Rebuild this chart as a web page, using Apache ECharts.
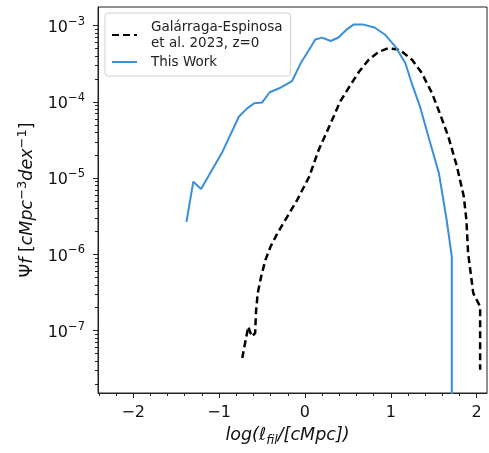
<!DOCTYPE html>
<html><head><meta charset="utf-8">
<script src="https://cdn.jsdelivr.net/npm/echarts@6/dist/echarts.min.js"></script>
<style>html,body{margin:0;padding:0;background:#fff}#c{width:489px;height:453px}</style>
</head><body><div id="c"></div>
<script>
// Galárraga-Espinosa et al. 2023, z=0 (log length, Psi_f)
const galLogL = [-0.73,-0.69,-0.66,-0.62,-0.58,-0.57,-0.55,-0.51,-0.46,-0.40,-0.32,-0.24,-0.17,-0.09,0.05,0.16,0.30,0.41,0.53,0.63,0.74,0.86,0.97,1.07,1.13,1.25,1.36,1.48,1.57,1.67,1.77,1.85,1.88,1.90,1.96,2.04,2.04];
const galPsi = [4.38e-8,7.6e-8,1.13e-7,8.4e-8,9.3e-8,1.77e-7,3.11e-7,5.13e-7,8.5e-7,1.27e-6,1.90e-6,2.70e-6,3.65e-6,5.2e-6,1.05e-5,2.35e-5,5.26e-5,1.01e-4,1.67e-4,2.49e-4,3.55e-4,4.56e-4,5.06e-4,4.91e-4,4.57e-4,3.55e-4,2.40e-4,1.30e-4,7.1e-5,3.51e-5,1.42e-5,5.74e-6,2.84e-6,1.04e-6,3.11e-7,2.07e-7,3.08e-8];
// This Work
const workLogL = [-1.38,-1.30,-1.21,-0.96,-0.77,-0.67,-0.59,-0.50,-0.41,-0.30,-0.15,-0.05,0.07,0.12,0.20,0.30,0.39,0.48,0.57,0.67,0.81,0.93,1.06,1.17,1.25,1.34,1.46,1.56,1.65,1.71,1.71];
const workPsi = [2.67e-6,9.0e-6,7.2e-6,2.23e-5,6.4e-5,8.3e-5,9.6e-5,9.8e-5,1.34e-4,1.51e-4,1.88e-4,3.21e-4,5.3e-4,6.6e-4,6.97e-4,6.3e-4,7.0e-4,8.8e-4,1.04e-3,1.04e-3,9.46e-4,7.67e-4,5.18e-4,3.21e-4,1.67e-4,8.67e-5,2.88e-5,1.16e-5,2.84e-6,9.4e-7,1e-12];
const xTickValues = [-2,-1,0,1,2];
const yTickExponents = [-7,-6,-5,-4,-3];
const seriesNames = ['Galárraga-Espinosa\net al. 2023, z=0','This Work'];

const XMIN=-2.41, XMAX=2.12, YMIN=-7.817, YMAX=-2.755;
const FONT='DejaVu Sans';
const toPts=(xs,ys)=>xs.map((x,i)=>[x,Math.log10(ys[i])]);
const xMinor=[]; for(let v=-2.4; v<=2.1; v+=0.2){const r=Math.round(v*10)/10; if(Math.abs(r-Math.round(r))>1e-6) xMinor.push(r);}
const yMinor=[]; for(let n=-8;n<=-3;n++){for(let k=2;k<=9;k++){const v=n+Math.log10(k); if(v>YMIN&&v<YMAX) yMinor.push(v);}}
const axCol='#222';
const chart=echarts.init(document.getElementById('c'),null,{renderer:'canvas'});
const txt={fontFamily:FONT,color:'#111'};
chart.setOption({
  animation:false,
  backgroundColor:'#fff',
  grid:{left:98,top:7,right:2,bottom:60,show:true,borderColor:axCol,borderWidth:1,backgroundColor:'transparent'},
  legend:{
    left:105,top:13,orient:'vertical',
    padding:[6,8,6,6],itemWidth:25,itemHeight:12,itemGap:3,
    backgroundColor:'rgba(255,255,255,0.85)',borderColor:'#d0d0d0',borderWidth:1,borderRadius:3,
    itemStyle:{color:'rgba(0,0,0,0)',borderWidth:0,opacity:0},
    textStyle:{fontFamily:FONT,fontSize:13.5,color:'#222',lineHeight:16,padding:[0,0,0,9]},
    data:seriesNames
  },
  xAxis:[{
    type:'value',min:XMIN,max:XMAX,
    axisLine:{show:true,onZero:false,lineStyle:{color:axCol,width:1}},
    axisTick:{show:true,length:5,lineStyle:{color:axCol},customValues:xTickValues},
    axisLabel:{...txt,fontSize:16,margin:12,customValues:xTickValues,formatter:v=>(v<0?'\u2212'+(-v):String(v))},
    splitLine:{show:false},
    name:'{i|log(ℓ}{s|fil}{i|/[cMpc])}',nameLocation:'middle',nameGap:33,
    nameTextStyle:{...txt,fontSize:17.5,padding:[0,10,0,0],rich:{
      i:{fontFamily:FONT,fontStyle:'italic',fontSize:17.5,color:'#111',verticalAlign:'bottom',padding:[0,0,3,0]},
      s:{fontFamily:FONT,fontStyle:'italic',fontSize:12.5,color:'#111',verticalAlign:'bottom'}}}
  },{
    type:'value',min:XMIN,max:XMAX,position:'bottom',
    axisLine:{show:false,onZero:false},axisLabel:{show:false},splitLine:{show:false},
    axisTick:{show:true,length:3,lineStyle:{color:axCol},customValues:xMinor}
  }],
  yAxis:[{
    type:'value',min:YMIN,max:YMAX,
    axisLine:{show:true,onZero:false,lineStyle:{color:axCol,width:1}},
    axisTick:{show:true,length:5,lineStyle:{color:axCol},customValues:yTickExponents},
    axisLabel:{...txt,margin:13,customValues:yTickExponents,
      formatter:v=>'{b|10}{s|\u2212'+(-Math.round(v))+'}',
      rich:{b:{fontFamily:FONT,fontSize:16,color:'#111',verticalAlign:'bottom'},
            s:{fontFamily:FONT,fontSize:11.5,color:'#111',verticalAlign:'bottom',padding:[0,0,8,0]}}},
    splitLine:{show:false},
    name:'{n|Ψ}{i|f }{n|[}{i|cMpc}{s|\u22123}{i|dex}{s|\u22121}{n|]}',nameLocation:'middle',nameGap:60,
    nameTextStyle:{...txt,fontSize:17.5,rich:{
      n:{fontFamily:FONT,fontSize:17.5,color:'#111',verticalAlign:'bottom'},
      i:{fontFamily:FONT,fontStyle:'italic',fontSize:17.5,color:'#111',verticalAlign:'bottom'},
      s:{fontFamily:FONT,fontSize:13,color:'#111',verticalAlign:'bottom',padding:[0,0,8,0]}}}
  },{
    type:'value',min:YMIN,max:YMAX,position:'left',
    axisLine:{show:false,onZero:false},axisLabel:{show:false},splitLine:{show:false},
    axisTick:{show:true,length:3,lineStyle:{color:axCol},customValues:yMinor}
  }],
  series:[
    {name:seriesNames[0],type:'line',xAxisIndex:0,yAxisIndex:0,data:toPts(galLogL,galPsi),
     symbol:'none',showSymbol:false,clip:true,
     lineStyle:{color:'#000',width:2.5,type:[7,4]},itemStyle:{color:'#000'}},
    {name:seriesNames[1],type:'line',xAxisIndex:0,yAxisIndex:0,data:toPts(workLogL,workPsi),
     symbol:'none',showSymbol:false,clip:true,
     lineStyle:{color:'#3a8fdc',width:2},itemStyle:{color:'#3a8fdc'}}
  ]
});
</script></body></html>
